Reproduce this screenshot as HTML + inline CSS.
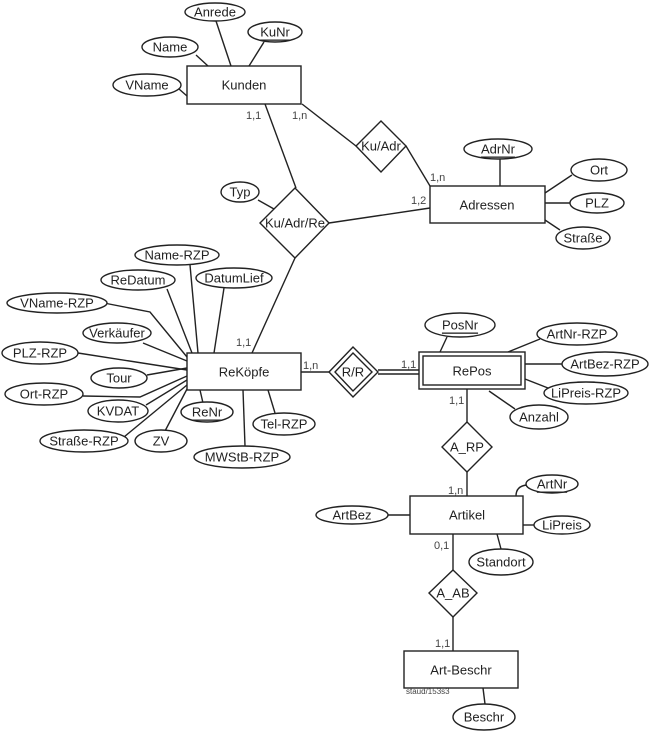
<!DOCTYPE html>
<html><head><meta charset="utf-8"><style>
html,body{margin:0;padding:0;background:#fff;}
svg{display:block;}
text{font-family:"Liberation Sans",sans-serif;font-size:13px;fill:#222;}
.s{font-size:11px;fill:#444;}
</style></head><body>
<svg width="650" height="732" viewBox="0 0 650 732" xmlns="http://www.w3.org/2000/svg">
<g stroke="#222" stroke-width="1.4" fill="none">
<!-- Kunden attrs -->
<line x1="196" y1="55" x2="208" y2="66"/>
<line x1="216" y1="21" x2="231" y2="66"/>
<line x1="264" y1="42" x2="249" y2="66"/>
<line x1="179" y1="89" x2="187" y2="96"/>
<!-- Kunden - Ku/Adr - Adressen -->
<line x1="302" y1="104" x2="356" y2="146"/>
<line x1="406" y1="146" x2="430" y2="186"/>
<line x1="500" y1="159" x2="500" y2="186"/>
<line x1="545" y1="193" x2="572" y2="175"/>
<line x1="545" y1="203" x2="570" y2="203"/>
<line x1="545" y1="220" x2="560" y2="230"/>
<!-- Ku/Adr/Re -->
<line x1="265" y1="104" x2="296" y2="188"/>
<line x1="258" y1="200" x2="274" y2="209"/>
<line x1="329" y1="223" x2="430" y2="208"/>
<line x1="295" y1="258" x2="252" y2="353"/>
<!-- ReKöpfe attrs -->
<polyline points="104,303 150,312 187,357"/>
<line x1="167" y1="289" x2="192" y2="353"/>
<line x1="190" y1="265" x2="198" y2="353"/>
<line x1="224" y1="288" x2="214" y2="353"/>
<line x1="143" y1="343" x2="187" y2="361"/>
<line x1="78" y1="353" x2="187" y2="370"/>
<line x1="147" y1="375" x2="187" y2="368"/>
<polyline points="83,396 140,397 187,376"/>
<line x1="146" y1="405" x2="187" y2="380"/>
<line x1="124" y1="437" x2="187" y2="385"/>
<line x1="165" y1="431" x2="187" y2="389"/>
<line x1="203" y1="403" x2="200" y2="390"/>
<line x1="245" y1="446" x2="243" y2="390"/>
<line x1="275" y1="413" x2="268" y2="390"/>
<!-- R/R -->
<line x1="301" y1="372" x2="329" y2="372"/>
<line x1="378" y1="370" x2="420" y2="370"/>
<line x1="378" y1="374" x2="420" y2="374"/>
<!-- RePos attrs -->
<line x1="447" y1="337" x2="440" y2="352"/>
<line x1="508" y1="352" x2="540" y2="339"/>
<line x1="525" y1="364" x2="562" y2="364"/>
<line x1="525" y1="379" x2="548" y2="388"/>
<line x1="489" y1="391" x2="515" y2="409"/>
<line x1="467" y1="389" x2="467" y2="422"/>
<line x1="467" y1="472" x2="467" y2="496"/>
<!-- Artikel -->
<path d="M516,496 Q516,486 527,485"/>
<line x1="388" y1="515" x2="410" y2="515"/>
<line x1="523" y1="525" x2="535" y2="525"/>
<line x1="497" y1="534" x2="501" y2="549"/>
<line x1="453" y1="534" x2="453" y2="570"/>
<line x1="453" y1="617" x2="453" y2="651"/>
<line x1="483" y1="688" x2="485" y2="704"/>
</g>
<g stroke="#222" stroke-width="1.4" fill="#fff">
<!-- entities -->
<rect x="187" y="66" width="114" height="38"/>
<rect x="430" y="186" width="115" height="37"/>
<rect x="187" y="353" width="114" height="37"/>
<rect x="419" y="352" width="106" height="37"/>
<rect x="423" y="356" width="98" height="29"/>
<rect x="410" y="496" width="113" height="38"/>
<rect x="404" y="651" width="114" height="37"/>
<!-- relationships -->
<polygon points="381,121 406,146 381,172 356,146"/>
<polygon points="295,188 329,223 295,258 260,223"/>
<polygon points="353,347 378,372 353,397 329,372"/>
<polygon points="353,353 372,372 353,391 335,372"/>
<polygon points="467,422 492,447 467,472 442,447"/>
<polygon points="453,570 477,593 453,617 429,593"/>
<!-- attributes -->
<ellipse cx="215" cy="12" rx="30" ry="9"/>
<ellipse cx="275" cy="32" rx="27" ry="10"/>
<ellipse cx="170" cy="47" rx="28" ry="10"/>
<ellipse cx="147" cy="85" rx="34" ry="11"/>
<ellipse cx="498" cy="149" rx="34" ry="10"/>
<ellipse cx="599" cy="170" rx="28" ry="11"/>
<ellipse cx="597" cy="203" rx="27" ry="10"/>
<ellipse cx="583" cy="238" rx="27" ry="11"/>
<ellipse cx="240" cy="192" rx="19" ry="10"/>
<ellipse cx="177" cy="255" rx="42" ry="10"/>
<ellipse cx="138" cy="280" rx="37" ry="10"/>
<ellipse cx="234" cy="278" rx="38" ry="10"/>
<ellipse cx="57" cy="303" rx="50" ry="10"/>
<ellipse cx="117" cy="333" rx="34" ry="10"/>
<ellipse cx="40" cy="353" rx="38" ry="11"/>
<ellipse cx="119" cy="378" rx="28" ry="10"/>
<ellipse cx="44" cy="394" rx="39" ry="11"/>
<ellipse cx="118" cy="411" rx="30" ry="11"/>
<ellipse cx="207" cy="412" rx="26" ry="10"/>
<ellipse cx="284" cy="424" rx="31" ry="11"/>
<ellipse cx="84" cy="441" rx="44" ry="11"/>
<ellipse cx="161" cy="441" rx="26" ry="11"/>
<ellipse cx="242" cy="457" rx="48" ry="11"/>
<ellipse cx="460" cy="325" rx="35" ry="12"/>
<ellipse cx="577" cy="334" rx="40" ry="11"/>
<ellipse cx="605" cy="364" rx="43" ry="12"/>
<ellipse cx="586" cy="393" rx="42" ry="11"/>
<ellipse cx="539" cy="417" rx="29" ry="12"/>
<ellipse cx="552" cy="484" rx="26" ry="9"/>
<ellipse cx="352" cy="515" rx="36" ry="9"/>
<ellipse cx="562" cy="525" rx="28" ry="9"/>
<ellipse cx="501" cy="562" rx="32" ry="13"/>
<ellipse cx="484" cy="717" rx="31" ry="13"/>
</g>
<g text-anchor="middle" dominant-baseline="central">
<text x="244" y="85">Kunden</text>
<text x="487" y="205">Adressen</text>
<text x="244" y="372">ReKöpfe</text>
<text x="472" y="371">RePos</text>
<text x="467" y="515">Artikel</text>
<text x="461" y="670">Art-Beschr</text>
<text x="381" y="146">Ku/Adr</text>
<text x="295" y="223">Ku/Adr/Re</text>
<text x="353" y="372">R/R</text>
<text x="467" y="447">A_RP</text>
<text x="453" y="593">A_AB</text>
<text x="215" y="12">Anrede</text>
<text x="275" y="32" text-decoration="underline">KuNr</text>
<text x="170" y="47">Name</text>
<text x="147" y="85">VName</text>
<text x="498" y="149" text-decoration="underline">AdrNr</text>
<text x="599" y="170">Ort</text>
<text x="597" y="203">PLZ</text>
<text x="583" y="238">Straße</text>
<text x="240" y="192">Typ</text>
<text x="177" y="255">Name-RZP</text>
<text x="138" y="280">ReDatum</text>
<text x="234" y="278">DatumLief</text>
<text x="57" y="303">VName-RZP</text>
<text x="117" y="333">Verkäufer</text>
<text x="40" y="353">PLZ-RZP</text>
<text x="119" y="378">Tour</text>
<text x="44" y="394">Ort-RZP</text>
<text x="118" y="411">KVDAT</text>
<text x="207" y="412" text-decoration="underline">ReNr</text>
<text x="284" y="424">Tel-RZP</text>
<text x="84" y="441">Straße-RZP</text>
<text x="161" y="441">ZV</text>
<text x="242" y="457">MWStB-RZP</text>
<text x="460" y="325" text-decoration="underline">PosNr</text>
<text x="577" y="334">ArtNr-RZP</text>
<text x="605" y="364">ArtBez-RZP</text>
<text x="586" y="393">LiPreis-RZP</text>
<text x="539" y="417">Anzahl</text>
<text x="552" y="484" text-decoration="underline">ArtNr</text>
<text x="352" y="515">ArtBez</text>
<text x="562" y="525">LiPreis</text>
<text x="501" y="562">Standort</text>
<text x="484" y="717">Beschr</text>
</g>
<g class="s">
<text class="s" x="246" y="119">1,1</text>
<text class="s" x="292" y="119">1,n</text>
<text class="s" x="430" y="181">1,n</text>
<text class="s" x="411" y="204">1,2</text>
<text class="s" x="236" y="346">1,1</text>
<text class="s" x="303" y="369">1,n</text>
<text class="s" x="401" y="368">1,1</text>
<text class="s" x="449" y="404">1,1</text>
<text class="s" x="448" y="494">1,n</text>
<text class="s" x="434" y="549">0,1</text>
<text class="s" x="435" y="647">1,1</text>
<text class="s" x="406" y="694" style="font-size:8px">staud/153s3</text>
</g>
</svg>
</body></html>
